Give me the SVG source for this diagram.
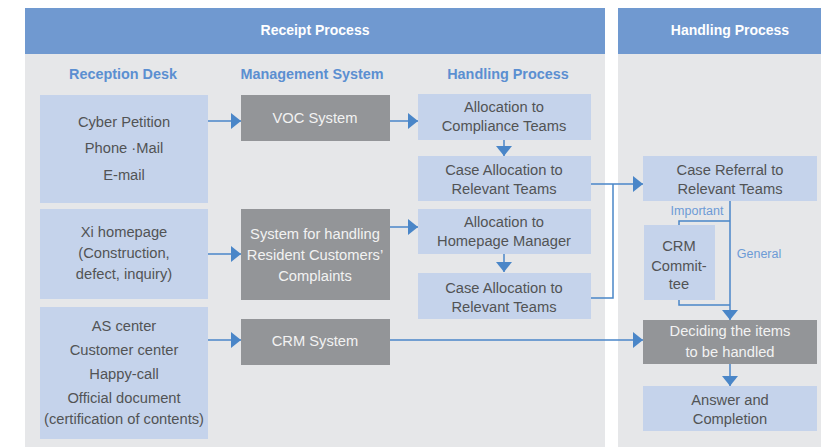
<svg xmlns="http://www.w3.org/2000/svg" width="821" height="447" viewBox="0 0 821 447">
<defs>
<style>
.panel{fill:#e6e7e9}
.hdr{fill:#7099d0}
.lt{fill:#c5d3eb}
.gr{fill:#939598}
text{font-family:"Liberation Sans",Arial,sans-serif;text-anchor:middle;dominant-baseline:central}
.ht{fill:#ffffff;font-size:14px;font-weight:bold}
.ch{fill:#5b8fd1;font-size:14.4px;font-weight:bold}
.t{fill:#525355;font-size:14.7px}
.w{fill:#f2f2f2;font-size:14.7px}
.lab{fill:#6d9bd6;font-size:12.5px}
.c{fill:none;stroke:#4a86c8;stroke-width:1.5}
</style>
<marker id="ah" markerUnits="userSpaceOnUse" markerWidth="11" markerHeight="16" refX="10" refY="8" orient="auto" viewBox="0 0 10 16">
<path d="M0,0 L10,8 L0,16 z" fill="#4a86c8"/>
</marker>
</defs>
<rect width="821" height="447" fill="#ffffff"/>
<g id="panel-receipt">
<rect class="panel" x="25" y="8" width="580" height="439"/>
<rect class="hdr" x="25" y="8" width="580" height="46"/>
<text class="ht" x="315" y="30">Receipt Process</text>
<text class="ch" x="123" y="74">Reception Desk</text>
<text class="ch" x="312" y="74">Management System</text>
<text class="ch" x="508" y="74">Handling Process</text>
</g>
<g id="panel-handling">
<rect class="panel" x="618" y="8" width="203" height="439"/>
<rect class="hdr" x="618" y="8" width="203" height="46"/>
<text class="ht" x="730" y="30">Handling Process</text>
</g>
<g id="connectors">
<line class="c" x1="208" y1="121" x2="241" y2="121" marker-end="url(#ah)"/>
<line class="c" x1="390" y1="121" x2="418" y2="121" marker-end="url(#ah)"/>
<line class="c" x1="504" y1="140" x2="504" y2="156" marker-end="url(#ah)"/>
<line class="c" x1="208" y1="254" x2="241" y2="254" marker-end="url(#ah)"/>
<line class="c" x1="390" y1="227" x2="418" y2="227" marker-end="url(#ah)"/>
<line class="c" x1="504" y1="254" x2="504" y2="272" marker-end="url(#ah)"/>
<line class="c" x1="208" y1="340" x2="241" y2="340" marker-end="url(#ah)"/>
<line class="c" x1="390" y1="340" x2="643" y2="340" marker-end="url(#ah)"/>
<line class="c" x1="591" y1="184" x2="643" y2="184" marker-end="url(#ah)"/>
<polyline class="c" points="591,298 613,298 613,184"/>
<line class="c" x1="730" y1="201" x2="730" y2="320" marker-end="url(#ah)"/>
<polyline class="c" points="730,221 679,221 679,225"/>
<polyline class="c" points="679,300 679,305 730,305"/>
<line class="c" x1="730" y1="364" x2="730" y2="386" marker-end="url(#ah)"/>
<text class="lab" x="697" y="211">Important</text>
<text class="lab" x="759" y="254">General</text>
</g>
<g id="n-cyber">
<rect class="lt" x="40" y="95" width="168" height="108"/>
<text class="t" x="124" y="122">Cyber Petition</text>
<text class="t" x="124" y="148">Phone ·Mail</text>
<text class="t" x="124" y="175">E-mail</text>
</g>
<g id="n-xi">
<rect class="lt" x="40" y="209" width="168" height="90"/>
<text class="t" x="124" y="232">Xi homepage</text>
<text class="t" x="124" y="253">(Construction,</text>
<text class="t" x="124" y="274">defect, inquiry)</text>
</g>
<g id="n-as">
<rect class="lt" x="40" y="307" width="168" height="132"/>
<text class="t" x="124" y="326">AS center</text>
<text class="t" x="124" y="350">Customer center</text>
<text class="t" x="124" y="374">Happy-call</text>
<text class="t" x="124" y="398">Official document</text>
<text class="t" x="124" y="419">(certification of contents)</text>
</g>
<g id="n-voc">
<rect class="gr" x="241" y="95" width="149" height="46"/>
<text class="w" x="315" y="118">VOC System</text>
</g>
<g id="n-resident">
<rect class="gr" x="241" y="209" width="149" height="91"/>
<text class="w" x="315" y="234">System for handling</text>
<text class="w" x="315" y="255">Resident Customers’</text>
<text class="w" x="315" y="276">Complaints</text>
</g>
<g id="n-crmsys">
<rect class="gr" x="241" y="319" width="149" height="46"/>
<text class="w" x="315" y="341">CRM System</text>
</g>
<g id="n-alloc-compliance">
<rect class="lt" x="418" y="94" width="173" height="46"/>
<text class="t" x="504" y="107">Allocation to</text>
<text class="t" x="504" y="126">Compliance Teams</text>
</g>
<g id="n-case1">
<rect class="lt" x="418" y="156" width="173" height="45"/>
<text class="t" x="504" y="170">Case Allocation to</text>
<text class="t" x="504" y="189">Relevant Teams</text>
</g>
<g id="n-alloc-homepage">
<rect class="lt" x="418" y="209" width="173" height="45"/>
<text class="t" x="504" y="222">Allocation to</text>
<text class="t" x="504" y="241">Homepage Manager</text>
</g>
<g id="n-case2">
<rect class="lt" x="418" y="273" width="173" height="46"/>
<text class="t" x="504" y="288">Case Allocation to</text>
<text class="t" x="504" y="307">Relevant Teams</text>
</g>
<g id="n-referral">
<rect class="lt" x="643" y="156" width="174" height="45"/>
<text class="t" x="730" y="170">Case Referral to</text>
<text class="t" x="730" y="189">Relevant Teams</text>
</g>
<g id="n-crmcommittee">
<rect class="lt" x="644" y="225" width="71" height="75"/>
<text class="t" x="679" y="246">CRM</text>
<text class="t" x="679" y="266">Commit-</text>
<text class="t" x="679" y="284">tee</text>
</g>
<g id="n-deciding">
<rect class="gr" x="643" y="320" width="174" height="44"/>
<text class="w" x="730" y="331">Deciding the items</text>
<text class="w" x="730" y="352">to be handled</text>
</g>
<g id="n-answer">
<rect class="lt" x="643" y="386" width="174" height="45"/>
<text class="t" x="730" y="400">Answer and</text>
<text class="t" x="730" y="419">Completion</text>
</g>
</svg>
